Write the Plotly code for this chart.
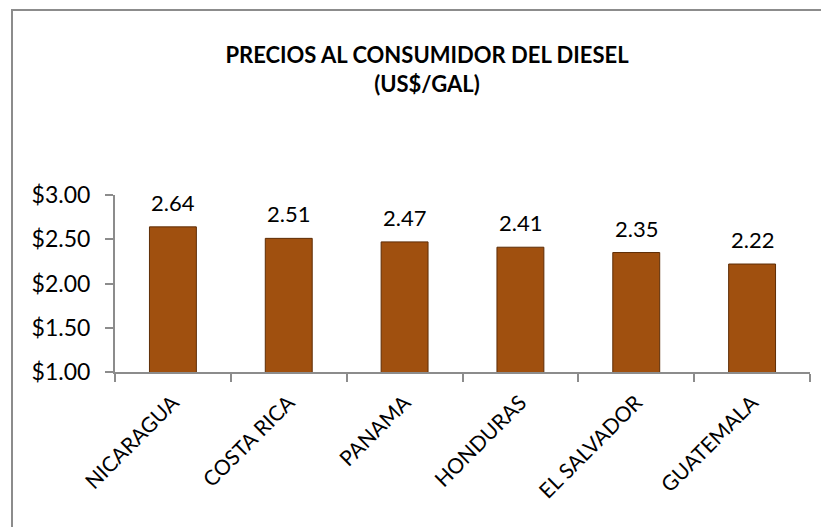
import plotly.graph_objects as go

categories = ["NICARAGUA", "COSTA RICA", "PANAMA", "HONDURAS", "EL SALVADOR", "GUATEMALA"]
prices = [2.64, 2.51, 2.47, 2.41, 2.35, 2.22]
y_ticks = [1.0, 1.5, 2.0, 2.5, 3.0]
title_lines = ["PRECIOS AL CONSUMIDOR DEL DIESEL", "(US$/GAL)"]

# page body has an 8px margin, so the figure is laid out 8px smaller
OFF = 8
W, H = 829 - OFF, 527 - OFF
L, T = 115 - OFF, 195 - OFF
pw, ph = 695, 177
R, B = W - L - pw, H - T - ph

FONT = "Lato"

fig = go.Figure()
fig.add_trace(go.Bar(
    x=categories, y=prices,
    width=0.405,
    marker=dict(color="#A0500F", line=dict(color="#5E2D06", width=1)),
    showlegend=False,
))

for c, v in zip(categories, prices):
    fig.add_annotation(
        x=c, y=v, xref="x", yref="y",
        text=f"{v:.2f}", showarrow=False,
        yanchor="bottom", yshift=9,
        font=dict(family=FONT, size=22, color="#000000"),
    )

def px_x(p):
    return (p - OFF - L) / pw

def px_y(p):
    return (H - B - (p - OFF)) / ph

shapes = [
    dict(type="line", xref="paper", yref="paper",
         x0=px_x(11), x1=px_x(829), y0=px_y(10), y1=px_y(10),
         line=dict(color="#8C8C8C", width=2)),
    dict(type="line", xref="paper", yref="paper",
         x0=px_x(12), x1=px_x(12), y0=px_y(10), y1=px_y(527),
         line=dict(color="#8C8C8C", width=2)),
]

fig.update_layout(
    width=W, height=H,
    margin=dict(l=L, r=R, t=T, b=B, pad=0),
    paper_bgcolor="white", plot_bgcolor="white",
    shapes=shapes,
    title=dict(
        text="<b>" + title_lines[0] + "</b><br><b>" + title_lines[1] + "</b>",
        x=(427 - OFF) / W, xanchor="center", xref="container",
        y=1 - 55 / H, yanchor="middle", yref="container",
        font=dict(family=FONT, size=22, color="#000000"),
    ),
    xaxis=dict(
        type="category",
        showline=True, linecolor="#8C8C8C", linewidth=2,
        ticks="outside", tickson="boundaries", ticklen=8, tickcolor="#8C8C8C", tickwidth=1.5,
        tickangle=-45, ticklabelstandoff=8,
        tickfont=dict(family=FONT, size=21, color="#000000"),
        showgrid=False, zeroline=False,
    ),
    yaxis=dict(
        range=[1, 3],
        tickvals=y_ticks,
        ticktext=[f"${v:.2f}" for v in y_ticks],
        showline=True, linecolor="#8C8C8C", linewidth=2,
        ticks="outside", ticklen=8, tickcolor="#8C8C8C", tickwidth=1.5,
        ticklabelstandoff=10,
        tickfont=dict(family=FONT, size=23, color="#000000"),
        showgrid=False, zeroline=False,
    ),
)

fig.write_html("out.html")
